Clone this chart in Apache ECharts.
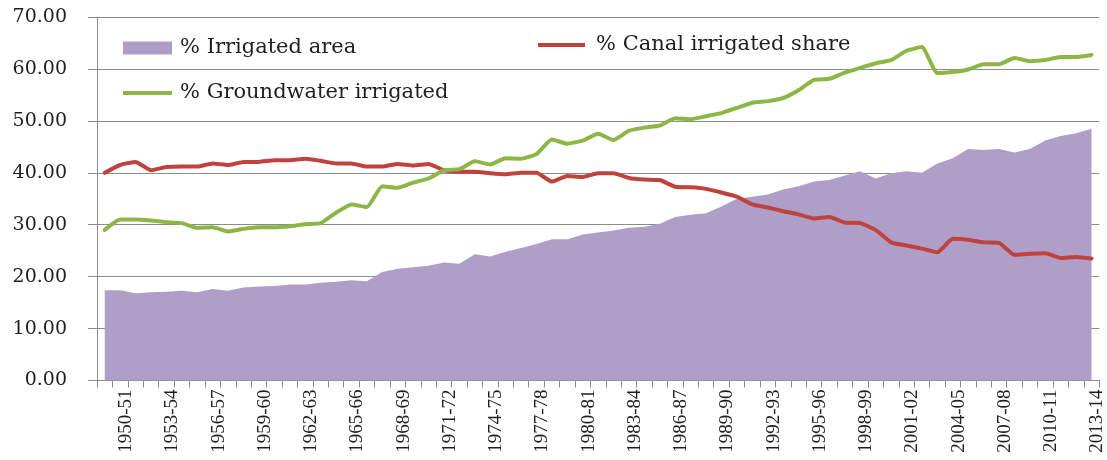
<!DOCTYPE html>
<html>
<head>
<meta charset="utf-8">
<script src="https://cdn.jsdelivr.net/npm/echarts@6/dist/echarts.min.js"></script>
<style>
html,body{margin:0;padding:0;background:#fff;}
#chart{width:1107px;height:460px;}
</style>
</head>
<body>
<div id="chart"></div>
<script>
const categories = [
"1949-50","1950-51","1951-52","1952-53","1953-54","1954-55","1955-56","1956-57","1957-58","1958-59",
"1959-60","1960-61","1961-62","1962-63","1963-64","1964-65","1965-66","1966-67","1967-68","1968-69",
"1969-70","1970-71","1971-72","1972-73","1973-74","1974-75","1975-76","1976-77","1977-78","1978-79",
"1979-80","1980-81","1981-82","1982-83","1983-84","1984-85","1985-86","1986-87","1987-88","1988-89",
"1989-90","1990-91","1991-92","1992-93","1993-94","1994-95","1995-96","1996-97","1997-98","1998-99",
"1999-00","2000-01","2001-02","2002-03","2003-04","2004-05","2005-06","2006-07","2007-08","2008-09",
"2009-10","2010-11","2011-12","2012-13","2013-14"
];

const irrigatedArea = [
17.4,17.4,16.8,17.0,17.1,17.3,17.0,17.6,17.3,17.9,
18.1,18.2,18.5,18.5,18.8,19.0,19.3,19.1,20.9,21.5,
21.8,22.1,22.7,22.5,24.3,23.9,24.8,25.5,26.3,27.2,
27.2,28.1,28.5,28.9,29.4,29.6,30.2,31.5,31.9,32.2,
33.5,35.0,35.4,35.8,36.8,37.4,38.3,38.6,39.5,40.3,
38.9,39.9,40.3,40.0,41.8,42.8,44.6,44.4,44.6,43.9,
44.6,46.2,47.1,47.6,48.5
];

const canalShare = [
40.0,41.5,42.1,40.5,41.1,41.2,41.2,41.8,41.5,42.1,
42.1,42.4,42.4,42.7,42.3,41.8,41.8,41.2,41.2,41.7,
41.4,41.7,40.5,40.2,40.2,39.9,39.7,40.0,40.0,38.3,
39.4,39.2,39.9,39.9,39.0,38.7,38.6,37.3,37.2,36.9,
36.2,35.4,33.9,33.3,32.6,32.0,31.2,31.5,30.4,30.3,
29.0,26.6,26.0,25.4,24.7,27.3,27.1,26.6,26.5,24.2,
24.4,24.5,23.6,23.8,23.5
];

const groundwaterShare = [
29.0,31.0,31.0,30.8,30.5,30.3,29.4,29.5,28.7,29.2,
29.5,29.5,29.7,30.1,30.3,32.3,33.9,33.4,37.4,37.1,
38.1,38.9,40.5,40.7,42.2,41.6,42.8,42.7,43.6,46.4,
45.6,46.2,47.5,46.3,48.1,48.7,49.1,50.5,50.3,50.9,
51.5,52.5,53.5,53.8,54.4,55.9,57.9,58.1,59.3,60.2,
61.1,61.7,63.5,64.2,59.2,59.4,59.9,60.9,60.9,62.1,
61.5,61.7,62.3,62.3,62.7
];

const yTicks = {min: 0, max: 70, interval: 10};
const seriesNames = ['% Irrigated area', '% Canal irrigated share', '% Groundwater irrigated'];

const COL_AREA = '#AF9EC7';
const COL_CANAL = '#C0423D';
const COL_GW = '#8DB646';
const GRID = '#8C8C8C';
const TXT = '#1f1f1f';

const chart = echarts.init(document.getElementById('chart'), null, {renderer: 'canvas'});

const legendText = {fontFamily: 'DejaVu Serif', fontSize: 21, color: TXT, lineHeight: 22};

chart.setOption({
  animation: false,
  backgroundColor: '#ffffff',
  grid: {left: 97, right: 7, top: 17, bottom: 79.5, containLabel: false},
  legend: [
    {data: [seriesNames[0]], left: 123, top: 37, padding: 0, icon: 'rect', itemWidth: 49, itemHeight: 13, itemGap: 0, textStyle: Object.assign({padding: [0,0,0,3]}, legendText)},
    {data: [seriesNames[1]], left: 538, top: 34, padding: 0, icon: 'rect', itemWidth: 47, itemHeight: 4, itemGap: 0, textStyle: Object.assign({padding: [0,0,0,6]}, legendText)},
    {data: [seriesNames[2]], left: 123, top: 82, padding: 0, icon: 'rect', itemWidth: 49, itemHeight: 4, itemGap: 0, textStyle: Object.assign({padding: [0,0,0,3]}, legendText)}
  ],
  xAxis: {
    type: 'category',
    data: categories,
    boundaryGap: true,
    axisLine: {show: true, lineStyle: {color: GRID, width: 1}},
    axisTick: {show: true, interval: 0, length: 7, lineStyle: {color: GRID, width: 1}},
    axisLabel: {
      interval: function (idx) { return idx % 3 === 1; },
      rotate: 90,
      margin: 9,
      verticalAlign: 'top',
      lineHeight: 12,
      fontFamily: 'Liberation Serif',
      fontSize: 19,
      color: TXT
    },
    splitLine: {show: false}
  },
  yAxis: {
    type: 'value',
    min: yTicks.min,
    max: yTicks.max,
    interval: yTicks.interval,
    axisLine: {show: true, lineStyle: {color: GRID, width: 1}},
    axisTick: {show: true, length: 9, lineStyle: {color: GRID, width: 1}},
    axisLabel: {
      margin: 30,
      fontFamily: 'DejaVu Serif',
      fontSize: 19,
      color: TXT,
      formatter: function (v) { return v.toFixed(2); }
    },
    splitLine: {show: true, lineStyle: {color: GRID, width: 1}}
  },
  series: [
    {
      name: seriesNames[0],
      type: 'line',
      data: irrigatedArea,
      symbol: 'none',
      lineStyle: {width: 0, color: COL_AREA},
      itemStyle: {color: COL_AREA},
      areaStyle: {color: COL_AREA, opacity: 1},
      z: 1
    },
    {
      name: seriesNames[1],
      type: 'line',
      data: canalShare,
      symbol: 'none',
      smooth: 0.15,
      lineStyle: {width: 4, color: COL_CANAL, join: 'round', cap: 'round'},
      itemStyle: {color: COL_CANAL},
      z: 3
    },
    {
      name: seriesNames[2],
      type: 'line',
      data: groundwaterShare,
      symbol: 'none',
      smooth: 0.15,
      lineStyle: {width: 4, color: COL_GW, join: 'round', cap: 'round'},
      itemStyle: {color: COL_GW},
      z: 4
    }
  ]
});
</script>
</body>
</html>
